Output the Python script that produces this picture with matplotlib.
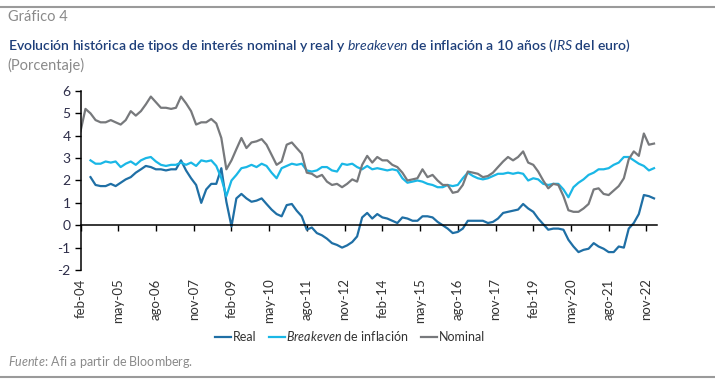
import matplotlib
matplotlib.use('Agg')
import matplotlib.pyplot as plt
import matplotlib.dates as mdates
import numpy as np
import pandas as pd

nan = np.nan

# bimonthly readings, feb-04 .. feb-23
fechas = pd.date_range('2004-02-01', periods=115, freq='2MS')

real = [nan, nan, 2.15, 1.8, 1.75, 1.75, 1.85, 1.75, 1.9, 2.05,
        2.15, 2.35, 2.5, 2.65, 2.6, 2.5, 2.5, 2.45, 2.5, 2.5,
        2.9, 2.45, 2.1, 1.8, 1.0, 1.6, 1.85, 1.85, 2.55, 1.05,
        -0.05, 1.2, 1.4, 1.2, 1.05, 1.1, 1.2, 0.95, 0.7, 0.5,
        0.4, 0.9, 0.95, 0.65, 0.4, -0.2, -0.1, -0.35, -0.45, -0.6,
        -0.8, -0.88, -1.0, -0.9, -0.75, -0.5, 0.35, 0.55, 0.3, 0.5,
        0.35, 0.3, 0.2, 0.1, 0.35, 0.3, 0.2, 0.2, 0.4, 0.4,
        0.35, 0.15, 0.0, -0.15, -0.35, -0.3, -0.15, 0.2, 0.2, 0.2,
        0.2, 0.1, 0.15, 0.3, 0.55, 0.6, 0.65, 0.7, 0.95, 0.75,
        0.6, 0.3, 0.05, -0.2, -0.15, -0.15, -0.2, -0.65, -0.95, -1.2,
        -1.1, -1.05, -0.8, -0.95, -1.05, -1.2, -1.2, -0.95, -1.0, -0.15,
        0.1, 0.5, 1.35, 1.3, 1.2]

breakeven = [nan, nan, 2.9, 2.75, 2.75, 2.85, 2.8, 2.85, 2.6, 2.75,
             2.85, 2.7, 2.9, 3.0, 3.05, 2.85, 2.7, 2.65, 2.7, 2.7,
             2.8, 2.7, 2.8, 2.65, 2.9, 2.85, 2.9, 2.65, 2.1, 1.3,
             2.0, 2.25, 2.55, 2.6, 2.7, 2.6, 2.75, 2.65, 2.35, 2.1,
             2.55, 2.65, 2.75, 2.7, 2.75, 2.45, 2.4, 2.45, 2.6, 2.6,
             2.45, 2.4, 2.75, 2.7, 2.75, 2.6, 2.5, 2.65, 2.5, 2.55,
             2.5, 2.45, 2.5, 2.45, 2.1, 1.9, 1.95, 2.0, 1.95, 1.85,
             1.8, 1.7, 1.7, 1.8, 1.75, 1.8, 2.1, 2.35, 2.2, 2.1,
             2.05, 2.1, 2.2, 2.3, 2.3, 2.35, 2.3, 2.35, 2.3, 2.0,
             2.1, 2.05, 1.85, 1.8, 1.85, 1.85, 1.6, 1.25, 1.7, 1.9,
             2.05, 2.25, 2.35, 2.5, 2.5, 2.55, 2.7, 2.8, 3.05, 3.05,
             2.9, 2.75, 2.65, 2.45, 2.55]

nominal = [4.2, 5.2, 5.0, 4.7, 4.6, 4.6, 4.7, 4.6, 4.5, 4.7,
           5.1, 4.9, 5.1, 5.4, 5.75, 5.5, 5.25, 5.25, 5.2, 5.25,
           5.75, 5.45, 5.1, 4.5, 4.6, 4.6, 4.75, 4.55, 3.9, 2.5,
           2.9, 3.4, 3.9, 3.45, 3.7, 3.75, 3.85, 3.6, 3.15, 2.7,
           2.85, 3.6, 3.7, 3.45, 3.2, 2.35, 2.3, 2.15, 2.25, 1.95,
           1.8, 1.85, 1.7, 1.85, 2.05, 1.95, 2.7, 3.1, 2.8, 3.05,
           2.9, 2.9, 2.7, 2.6, 2.35, 2.0, 2.05, 2.1, 2.5, 2.15,
           2.25, 2.0, 1.8, 1.8, 1.45, 1.5, 1.8, 2.4, 2.35, 2.3,
           2.15, 2.2, 2.35, 2.6, 2.85, 3.05, 2.9, 3.05, 3.3, 2.8,
           2.7, 2.4, 2.0, 1.65, 1.85, 1.8, 1.3, 0.67, 0.6, 0.6,
           0.75, 0.95, 1.6, 1.65, 1.4, 1.35, 1.55, 1.75, 2.1, 2.95,
           3.3, 3.1, 4.1, 3.6, 3.65]

tick_fechas = pd.date_range('2004-02-01', periods=16, freq='15MS')
tick_labels = ['feb-04', 'may-05', 'ago-06', 'nov-07', 'feb-09', 'may-10',
               'ago-11', 'nov-12', 'feb-14', 'may-15', 'ago-16', 'nov-17',
               'feb-19', 'may-20', 'ago-21', 'nov-22']

plt.rcParams['font.family'] = ['Lato', 'DejaVu Sans']
plt.rcParams['axes.unicode_minus'] = False
plt.rcParams['mathtext.fontset'] = 'custom'
plt.rcParams['mathtext.rm'] = 'Lato'
plt.rcParams['mathtext.it'] = 'Lato:italic'

gris = '#8a8a8a'
x = mdates.date2num(fechas)

fig = plt.figure(figsize=(7.15, 3.82), dpi=100)
ax = fig.add_axes([0.1126, 0.2932, 0.8064, 0.4686])

ax.plot(x, real, color='#1f6fa5', lw=1.6, label='Real')
ax.plot(x, breakeven, color='#1ab7e6', lw=1.6, label=r'$\it{Breakeven}$ de inflación')
ax.plot(x, nominal, color='#77797c', lw=1.6, label='Nominal')

ax.set_xlim(mdates.date2num(pd.Timestamp('2004-02-01')),
            mdates.date2num(pd.Timestamp('2023-03-10')))
ax.set_ylim(-2, 6)
ax.set_yticks(range(-2, 7))
ax.tick_params(axis='y', direction='out', length=4, width=1, labelsize=10,
               labelcolor='#2e2e4a', pad=3)

ax.spines['top'].set_visible(False)
ax.spines['right'].set_visible(False)
ax.spines['bottom'].set_position(('data', 0))
for s in ('left', 'bottom'):
    ax.spines[s].set_linewidth(1.1)
ax.set_xticks(mdates.date2num(tick_fechas))
ax.tick_params(axis='x', direction='out', length=4, width=1, labelbottom=False)

sec = ax.secondary_xaxis('bottom')
sec.set_xticks(mdates.date2num(tick_fechas), labels=tick_labels, rotation=90)
sec.spines['bottom'].set_visible(False)
sec.tick_params(length=0, pad=6, labelsize=9.5, labelcolor='#333333')

fig.legend(loc='center', bbox_to_anchor=(350 / 715, 1 - 336 / 382), ncol=3,
           frameon=False, fontsize=9, handlelength=1.3, handletextpad=0.1,
           columnspacing=1.0, labelcolor='#333333')

# header and footer
fig.add_artist(plt.Line2D([0, 1], [0.982, 0.982], color='#9a9a9a', lw=1.5))
fig.text(0.011, 0.955, 'Gráfico 4', color=gris, fontsize=10.5, va='center')
fig.text(0.011, 0.869,
         r'Evolución histórica de tipos de interés nominal y real y $\it{breakeven}$'
         r' de inflación a 10 años ($\it{IRS}$ del euro)',
         color='#1e3f7a', fontsize=10.1, fontweight='semibold', va='baseline')
fig.text(0.011, 0.817, '(Porcentaje)', color=gris, fontsize=10.5, va='baseline')
fig.text(0.011, 0.042, r'$\it{Fuente}$: Afi a partir de Bloomberg.', color=gris,
         fontsize=9, va='baseline')
fig.add_artist(plt.Line2D([0, 1], [0.014, 0.014], color='#9a9a9a', lw=1.5))

fig.savefig('out.png', dpi=100)
